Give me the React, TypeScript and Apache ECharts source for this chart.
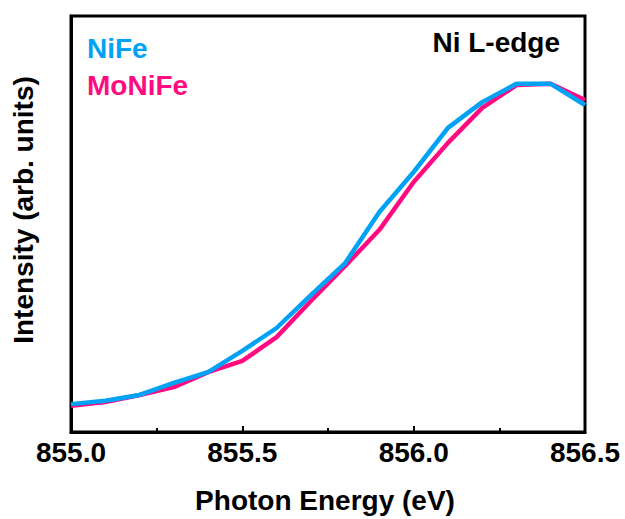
import React, { useEffect, useRef } from "react";
import * as echarts from "echarts";

const energies = [855.0, 855.1, 855.2, 855.3, 855.4, 855.5, 855.6, 855.7, 855.8, 855.9, 856.0, 856.1, 856.2, 856.3, 856.4, 856.5];
const nife = [0.067, 0.075, 0.089, 0.118, 0.144, 0.195, 0.25, 0.329, 0.406, 0.529, 0.625, 0.731, 0.793, 0.837, 0.837, 0.786];
const monife = [0.063, 0.072, 0.089, 0.108, 0.144, 0.171, 0.228, 0.315, 0.399, 0.486, 0.601, 0.695, 0.779, 0.834, 0.837, 0.798];
const seriesNames = ["MoNiFe", "NiFe"];
const xTitle = "Photon Energy (eV)";
const yTitle = "Intensity (arb. units)";
const edgeLabel = "Ni L-edge";

const BLUE = "#00A2F5";
const PINK = "#FF0A80";
const FONT = "'Liberation Sans', Arial, sans-serif";

export default function App() {
  const ref = useRef<HTMLDivElement>(null);
  useEffect(() => {
    if (!ref.current) return;
    const chart = echarts.init(ref.current, null, { renderer: "svg" });
    const txt = { fontFamily: FONT, fontWeight: "bold", fontSize: 28 };
    chart.setOption({
      animation: false,
      backgroundColor: "#fff",
      grid: {
        left: 71,
        right: 40,
        top: 16,
        bottom: 87,
        show: true,
        borderColor: "#000",
        borderWidth: 3,
        containLabel: false,
      },
      xAxis: {
        type: "value",
        min: 855,
        max: 856.5,
        interval: 0.5,
        axisLine: { show: true, lineStyle: { color: "#000", width: 3 } },
        axisTick: { show: true, inside: true, length: 6, lineStyle: { color: "#000", width: 2 } },
        minorTick: { show: true, splitNumber: 2, length: 4, lineStyle: { color: "#000", width: 2 } },
        splitLine: { show: false },
        axisLabel: {
          margin: 6,
          color: "#000",
          ...txt,
          formatter: (v: number) => v.toFixed(1),
        },
      },
      yAxis: {
        type: "value",
        min: 0,
        max: 1,
        axisLine: { show: true, lineStyle: { color: "#000", width: 3 } },
        axisTick: { show: false },
        axisLabel: { show: false },
        splitLine: { show: false },
      },
      series: [
        {
          name: seriesNames[0],
          type: "line",
          data: energies.map((e, i) => [e, monife[i]]),
          showSymbol: false,
          lineStyle: { color: PINK, width: 4.5 },
          itemStyle: { color: PINK },
          z: 2,
        },
        {
          name: seriesNames[1],
          type: "line",
          data: energies.map((e, i) => [e, nife[i]]),
          showSymbol: false,
          lineStyle: { color: BLUE, width: 4.5 },
          itemStyle: { color: BLUE },
          z: 3,
        },
      ],
      graphic: [
        {
          type: "text",
          left: 87,
          top: 34,
          style: { text: seriesNames[1], fill: BLUE, font: `bold 28px ${FONT}` },
        },
        {
          type: "text",
          left: 87,
          top: 71,
          style: { text: seriesNames[0], fill: PINK, font: `bold 28px ${FONT}` },
        },
        {
          type: "text",
          right: 65,
          top: 28,
          style: { text: edgeLabel, fill: "#000", font: `bold 28px ${FONT}` },
        },
        {
          type: "text",
          x: 325,
          y: 500,
          style: {
            text: xTitle,
            fill: "#000",
            font: `bold 28px ${FONT}`,
            textAlign: "center",
            textVerticalAlign: "middle",
          },
        },
        {
          type: "text",
          x: 23,
          y: 210,
          rotation: Math.PI / 2,
          style: {
            text: yTitle,
            fill: "#000",
            font: `bold 28px ${FONT}`,
            textAlign: "center",
            textVerticalAlign: "middle",
          },
        },
      ],
    });
    return () => chart.dispose();
  }, []);
  return (
    <div
      ref={ref}
      style={{ position: "fixed", left: 0, top: 0, width: 625, height: 519, background: "#fff" }}
    />
  );
}
